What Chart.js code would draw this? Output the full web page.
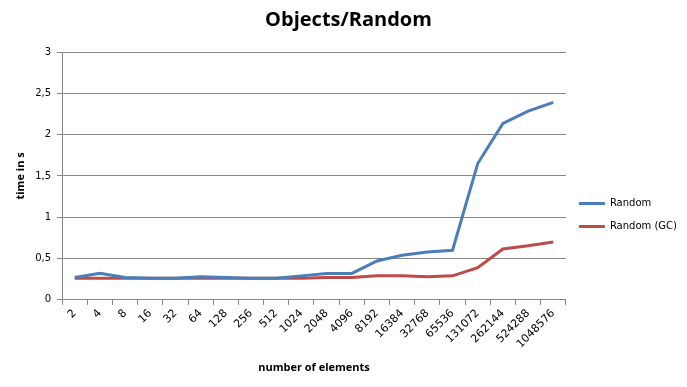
<!DOCTYPE html>
<html>
<head>
<meta charset="utf-8">
<script src="https://cdn.jsdelivr.net/npm/chart.js@4/dist/chart.umd.min.js"></script>
<style>
html,body{margin:0;padding:0;background:#fff;}
#wrap{width:687px;height:387px;}
</style>
</head>
<body>
<div id="wrap"><canvas id="c" width="687" height="387"></canvas></div>
<script>
const categories = ["2","4","8","16","32","64","128","256","512","1024","2048","4096","8192","16384","32768","65536","131072","262144","524288","1048576"];
const randomValues = [0.27,0.32,0.27,0.26,0.26,0.28,0.27,0.26,0.26,0.29,0.32,0.32,0.47,0.54,0.58,0.60,1.65,2.135,2.285,2.39];
const randomGCValues = [0.26,0.26,0.26,0.26,0.26,0.26,0.26,0.26,0.26,0.26,0.27,0.27,0.29,0.29,0.28,0.29,0.39,0.615,0.655,0.70];
const yTicks = [0,0.5,1,1.5,2,2.5,3];

const gridColor = '#868686';

const legendShift = {
  id:'legendShift',
  afterUpdate(chart){
    const lg = chart.legend;
    if(!lg) return;
    lg.top += 27; lg.bottom += 27;
  }
};

new Chart(document.getElementById('c'), {
  type:'line',
  data:{
    labels:categories,
    datasets:[
      {label:'Random', data:randomValues, borderColor:'#4a7ebb', backgroundColor:'#4a7ebb', borderWidth:3, pointRadius:0, tension:0},
      {label:'Random (GC)', data:randomGCValues, borderColor:'#be4b48', backgroundColor:'#be4b48', borderWidth:3, pointRadius:0, tension:0}
    ]
  },
  options:{
    responsive:false,
    animation:false,
    layout:{padding:{left:10,right:0,top:0,bottom:11}},
    plugins:{
      title:{display:true, text:'Objects/Random', color:'#000', font:{family:'Open Sans', size:20, weight:'bold'}, padding:{top:8,bottom:20}},
      legend:{position:'right', labels:{usePointStyle:true, pointStyle:'line', pointStyleWidth:26, boxHeight:10, color:'#000', font:{family:'DejaVu Sans', size:10}, padding:13}},
      tooltip:{enabled:false}
    },
    scales:{
      x:{
        offset:true,
        grid:{display:true, drawOnChartArea:false, drawTicks:true, tickLength:5, color:gridColor, offset:true},
        border:{color:gridColor},
        ticks:{color:'#000', font:{family:'DejaVu Sans', size:11}, minRotation:45, maxRotation:45, autoSkip:false, padding:2},
        title:{display:true, text:'number of elements', color:'#000', font:{family:'Open Sans', size:11, weight:'bold'}, padding:{top:8,bottom:2}}
      },
      y:{
        min:0, max:3,
        afterBuildTicks:(ax)=>{ax.ticks = yTicks.map(v=>({value:v}));},
        grid:{color:gridColor, tickLength:5},
        border:{color:gridColor},
        ticks:{color:'#000', font:{family:'DejaVu Sans', size:10}, padding:6, callback:(v)=>String(v).replace('.',',')},
        title:{display:true, text:'time in s', color:'#000', font:{family:'Open Sans', size:11, weight:'bold'}, padding:{bottom:2}}
      }
    }
  },
  plugins:[legendShift]
});
</script>
</body>
</html>
